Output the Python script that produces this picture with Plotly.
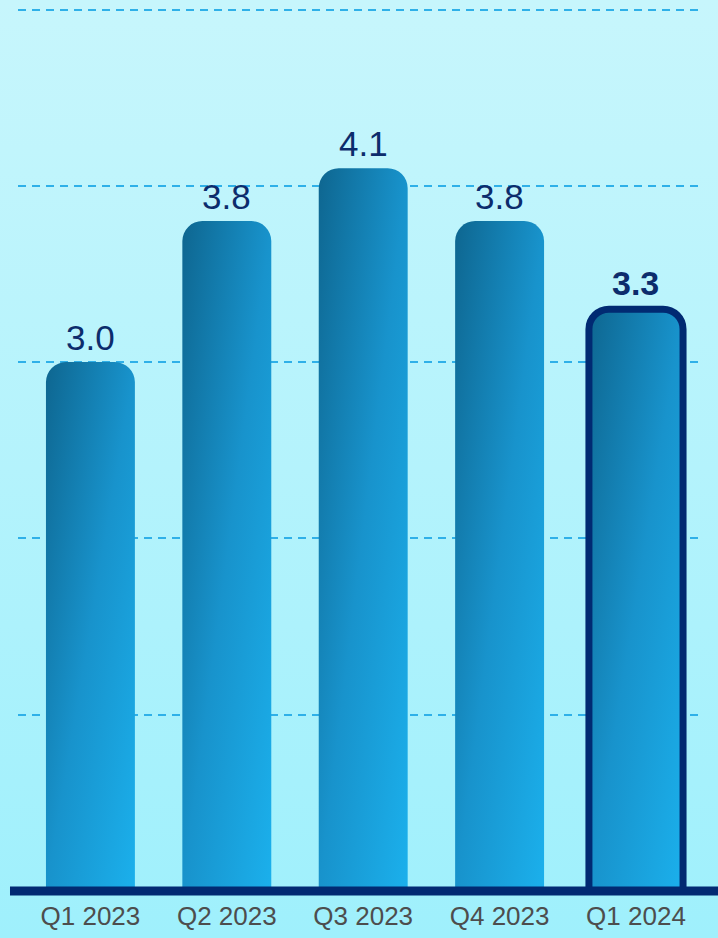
import plotly.graph_objects as go

categories = ["Q1 2023", "Q2 2023", "Q3 2023", "Q4 2023", "Q1 2024"]
values = [3.0, 3.8, 4.1, 3.8, 3.3]
value_labels = ["3.0", "3.8", "4.1", "3.8", "<b>3.3</b>"]
highlight = [False, False, False, False, True]

NAVY = "#012a72"
LABEL = "#0c2c6c"

fig = go.Figure()
fig.add_trace(go.Bar(
    x=list(range(len(categories))),
    y=values,
    width=[0.69 if h else 0.652 for h in highlight],
    marker=dict(
        color="#1893cc",
        cornerradius=20,
        line=dict(color=NAVY, width=[7 if h else 0 for h in highlight]),
    ),
    hoverinfo="skip",
))

for i, (v, t, h) in enumerate(zip(values, value_labels, highlight)):
    fig.add_annotation(
        x=i, y=v, text=t, showarrow=False, yanchor="bottom", yshift=5 if h else 3,
        font=dict(family="Liberation Sans, Arial, sans-serif", size=34 if h else 35, color=LABEL),
    )

# baseline at the bottom of the plot area (paper refs so it is not clipped)
fig.add_shape(type="line", xref="paper", yref="paper", x0=-0.0117, x1=1.05, y0=0, y1=0,
              line=dict(color=NAVY, width=9), layer="above")

fig.update_layout(
    width=718, height=938,
    margin=dict(l=18, r=16, t=6, b=47, autoexpand=False),
    paper_bgcolor="rgba(0,0,0,0)",
    plot_bgcolor="rgba(0,0,0,0)",
    showlegend=False,
    bargap=0.3,
    xaxis=dict(
        range=[-0.531, 4.484], automargin=False,
        tickmode="array", tickvals=list(range(len(categories))), ticktext=categories,
        showgrid=False, zeroline=False, showline=False, ticks="",
        tickfont=dict(family="Liberation Sans, Arial, sans-serif", size=26, color="#4d4d4d"),
        ticklabelstandoff=7,
    ),
    yaxis=dict(
        range=[0, 5.02], dtick=1, tick0=0, automargin=False,
        showgrid=True, gridcolor="#2fb0e8", gridwidth=2, griddash="8px,6px",
        zeroline=False, showline=False, showticklabels=False, ticks="",
    ),
)

post = """
var gd = document.getElementById('{plot_id}');
document.body.style.margin = '0';
document.documentElement.style.background = 'linear-gradient(180deg, #c7f6fc 0%, #b4f3fc 50%, #9ff0fc 100%)';
document.body.style.background = 'transparent';
var ns = 'http://www.w3.org/2000/svg';
var svg = gd.querySelector('svg.main-svg');
var defs = svg.querySelector('defs');
if (!defs) { defs = document.createElementNS(ns, 'defs'); svg.insertBefore(defs, svg.firstChild); }
var g = document.createElementNS(ns, 'linearGradient');
g.setAttribute('id', 'bargrad');
g.setAttribute('x1', '0'); g.setAttribute('y1', '0');
g.setAttribute('x2', '1'); g.setAttribute('y2', '1');
[['0', '#0e6690'], ['0.5', '#1893cc'], ['1', '#1bb0ec']].forEach(function(s) {
  var st = document.createElementNS(ns, 'stop');
  st.setAttribute('offset', s[0]); st.setAttribute('stop-color', s[1]);
  g.appendChild(st);
});
defs.appendChild(g);
gd.querySelectorAll('.barlayer .trace.bars path').forEach(function(p) { p.style.fill = 'url(#bargrad)'; });
"""

fig.write_html("out.html", post_script=post, config={"displayModeBar": False})
